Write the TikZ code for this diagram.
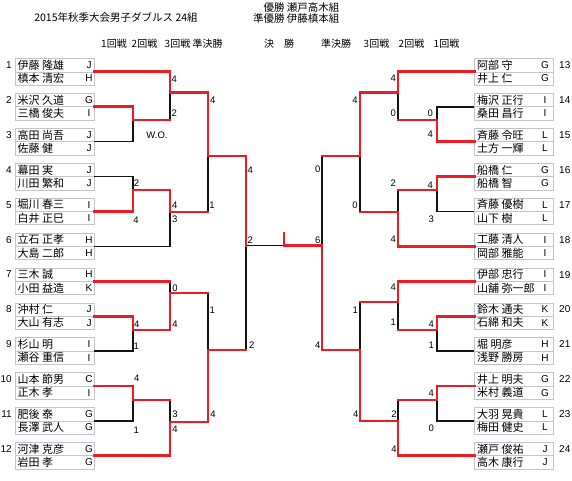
\documentclass[tikz,border=0pt]{standalone}
\usepackage{fontspec}
\usepackage{xcolor}
\usepackage{tikz}
\usetikzlibrary{positioning}
\setmainfont{Liberation Sans}
\newfontfamily\jp{Noto Sans CJK JP}
\definecolor{bkRed}{RGB}{236,28,36}
\definecolor{bkBox}{RGB}{196,196,206}
\definecolor{bkLine}{RGB}{20,20,20}

\begin{document}
\begin{tikzpicture}[
  x=1pt, y=-1pt,
  font=\fontsize{10}{12}\selectfont,
  team/.style={draw=bkBox, line width=0.6pt, minimum width=79pt, minimum height=26.6pt, inner sep=0pt},
  pname/.style={font=\jp\fontsize{11}{12}\selectfont, inner sep=0pt},
  club/.style={font=\fontsize{10}{12}\selectfont, inner sep=0pt},
  seedno/.style={font=\fontsize{10}{12}\selectfont, inner sep=0pt},
  score/.style={font=\fontsize{9.5}{11}\selectfont, inner sep=0pt},
  rndhead/.style={font=\jp\fontsize{10}{12}\selectfont, inner sep=0pt},
  win/.style={draw=bkRed, line width=2.8pt, line cap=rect},
  lose/.style={draw=bkLine, line width=1.6pt}
]
\useasboundingbox (0,0) rectangle (572,480);

%============ HEADER ============
\node[font=\jp\fontsize{10.5}{12}\selectfont] (title) at (116,17.5) {2015年秋季大会男子ダブルス 24組};
\node[font=\jp\fontsize{10.5}{12}\selectfont, anchor=east] (champ) at (343,7.5) {優勝 瀬戸高木組};
\node[font=\jp\fontsize{10.5}{12}\selectfont, anchor=east] (runner) at (343,18.5) {準優勝 伊藤槙本組};
\foreach \x/\t [count=\k] in {114/1回戦, 144.5/2回戦, 177.5/3回戦, 207.5/準決勝, 279/決　勝,
                             336/準決勝, 376.5/3回戦, 411.5/2回戦, 446.5/1回戦}
  \node[rndhead] (h\k) at (\x,44) {\t};

%============ LEFT TEAMS ============
\foreach \n/\pa/\ca/\pb/\cb in {
  1/伊藤 隆雄/J/槙本 清宏/H,
  2/米沢 久道/G/三橋 俊夫/I,
  3/高田 尚吾/J/佐藤 健/J,
  4/幕田 実/J/川田 繁和/J,
  5/堀川 春三/I/白井 正巳/I,
  6/立石 正孝/H/大島 二郎/H,
  7/三木 誠/H/小田 益造/K,
  8/沖村 仁/J/大山 有志/J,
  9/杉山 明/I/瀬谷 重信/I,
  10/山本 節男/C/正木 孝/I,
  11/肥後 泰/G/長澤 武人/G,
  12/河津 克彦/G/岩田 孝/G} {
  \pgfmathsetmacro\yy{71.8+34.9*(\n-1)}
  \node[team] (t\n) at (54.5,\yy) {};
  \draw[bkBox, line width=0.6pt] (t\n.west) -- (t\n.east);
  \node[seedno, anchor=east] (s\n) at (12,\yy-6.65) {\n};
  \node[pname, anchor=west] (t\n-a) at (17.5,\yy-6.65) {\pa};
  \node[pname, anchor=west] (t\n-b) at (17.5,\yy+6.65) {\pb};
  \node[club] (t\n-ca) at (89,\yy-6.65) {\ca};
  \node[club] (t\n-cb) at (89,\yy+6.65) {\cb};
}

%============ RIGHT TEAMS ============
\foreach \n/\pa/\ca/\pb/\cb in {
  13/阿部 守/G/井上 仁/G,
  14/梅沢 正行/I/桑田 昌行/I,
  15/斉藤 令旺/L/土方 一輝/L,
  16/船橋 仁/G/船橋 智/G,
  17/斉藤 優樹/L/山下 樹/L,
  18/工藤 清人/I/岡部 雅能/I,
  19/伊部 忠行/I/山舗 弥一郎/I,
  20/鈴木 通夫/K/石綿 和夫/K,
  21/堀 明彦/H/浅野 勝房/H,
  22/井上 明夫/G/米村 義道/G,
  23/大羽 晃貴/L/梅田 健史/L,
  24/瀬戸 俊祐/J/高木 康行/J} {
  \pgfmathsetmacro\yy{71.8+34.9*(\n-13)}
  \node[team] (t\n) at (514,\yy) {};
  \draw[bkBox, line width=0.6pt] (t\n.west) -- (t\n.east);
  \node[seedno, anchor=west] (s\n) at (559,\yy-6.65) {\n};
  \node[pname, anchor=west] (t\n-a) at (477,\yy-6.65) {\pa};
  \node[pname, anchor=west] (t\n-b) at (477,\yy+6.65) {\pb};
  \node[club] (t\n-ca) at (545,\yy-6.65) {\ca};
  \node[club] (t\n-cb) at (545,\yy+6.65) {\cb};
}

%============ LEFT BRACKET ============
% losers
\draw[lose] (t3.east) -| (133,120);
\draw[lose] (170,120) -- (170,92.7);
\draw[lose] (t4.east) -| (133,190);
\draw[lose] (t6.east) -| (170,212);
\draw[lose] (208,212) -- (208,156);
\draw[lose] (t7.east) -| (170,293);
\draw[lose] (t9.east) -| (133,330);
\draw[lose] (208,293) -- (208,350);
\draw[lose] (t11.east) -| (133,400);
\draw[lose] (170,400) -- (170,422);
\draw[lose] (246,350) -- (246,245.5) -- (284,245.5);
% winners
\draw[win] (t1.east) -| (170,92.7) -- (208,92.7) -- (208,156) -- (246,156) -- (246,245.5);
\draw[win] (t2.east) -| (133,120) -- (170,120);
\draw[win] (t5.east) -| (133,190) -- (170,190) -- (170,212) -- (208,212);
\draw[win] (t7.east) -- (t7.east -| 170,0);
\draw[win] (t8.east) -| (133,330) -- (170,330) -- (170,293) -- (208,293);
\draw[win] (t10.east) -| (133,400) -- (170,400);
\draw[win] (t12.east) -| (170,422) -- (208,422) -- (208,350) -- (246,350);

%============ RIGHT BRACKET ============
% losers
\draw[lose] (t14.west) -| (437,120);
\draw[lose] (398,120) -- (398,92.3);
\draw[lose] (t17.west) -| (437,190);
\draw[lose] (398,190) -- (398,212);
\draw[lose] (360,212) -- (360,156);
\draw[lose] (322,156) -- (322,245.5);
\draw[lose] (t21.west) -| (437,330);
\draw[lose] (398,330) -- (398,302);
\draw[lose] (360,302) -- (360,350);
\draw[lose] (t23.west) -| (437,400);
\draw[lose] (398,400) -- (398,421);
% winners
\draw[win] (t13.west) -| (398,92.3) -- (360,92.3) -- (360,156) -- (322,156);
\draw[win] (t15.west) -| (437,120) -- (398,120);
\draw[win] (t16.west) -| (437,190) -- (398,190);
\draw[win] (t18.west) -| (398,212) -- (360,212);
\draw[win] (t19.west) -| (398,302) -- (360,302);
\draw[win] (t20.west) -| (437,330) -- (398,330);
\draw[win] (t22.west) -| (437,400) -- (398,400);
\draw[win] (t24.west) -| (398,421) -- (360,421) -- (360,350) -- (322,350) -- (322,245.5) -- (284,245.5) -- (284,233);

%============ SCORES ============
\node[score] (wo) at (157,135.5) {W.O.};
\foreach \x/\y/\s [count=\k] in {
  174.3/79.3/4, 174.3/113.3/2, 136.5/183.5/2, 136/220/4, 174.7/205/4, 174.7/219.3/3,
  212.7/100/4, 212/205/1, 250.3/170/4, 250.3/240/2, 251.7/345.3/2,
  175/288.3/0, 175/324/4, 136.7/324/4, 136.3/346.7/1, 212.3/310/1, 213/414.3/4,
  136.7/378.7/4, 136.3/430/1, 175/414.7/3, 175/429/4}
  \node[score] (sl\k) at (\x,\y) {\s};
\foreach \x/\y/\s [count=\k] in {
  393.3/78.3/4, 393.3/113.3/0, 355/100/4, 355/205/0, 317.7/169.3/0, 317.7/240/6,
  393.3/183.3/2, 393.3/239.3/4, 317.7/345/4, 393.3/287.7/4, 393.3/322.7/1,
  355.3/310/1, 355.7/414.3/4, 394/414.3/2, 394/449/4,
  430.3/113.3/0, 430.3/134/4, 430.3/185/4, 431.3/219.3/3,
  431.3/324/4, 431.3/345/1, 431.3/393.3/4, 431.3/428.3/0}
  \node[score] (sr\k) at (\x,\y) {\s};

\end{tikzpicture}
\end{document}
